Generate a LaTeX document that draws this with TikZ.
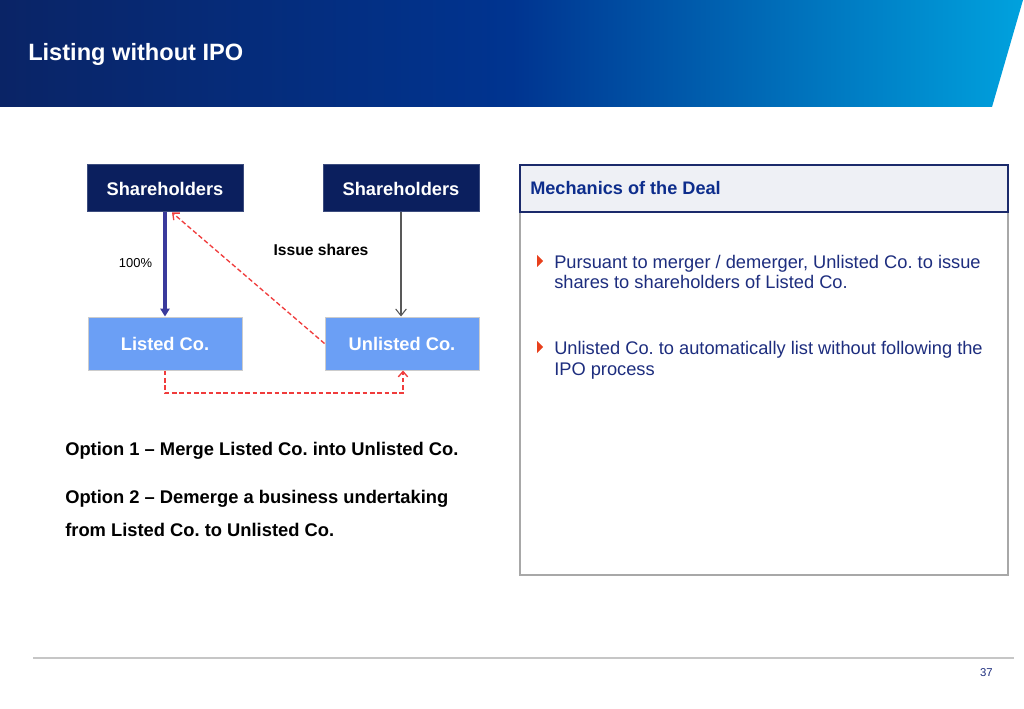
\documentclass[tikz,border=0pt]{standalone}
\usepackage{fontspec}
\setmainfont{Liberation Sans}
\usetikzlibrary{arrows.meta}
\frenchspacing
\definecolor{navybox}{HTML}{0B1F5E}
\definecolor{lightbox}{HTML}{6B9FF5}
\definecolor{arrowblue}{HTML}{3A3A9C}
\definecolor{dashred}{HTML}{F03C3C}
\definecolor{textnavy}{HTML}{1D2D7E}
\definecolor{headnavy}{HTML}{0D2D8C}
\definecolor{bulletred}{HTML}{E8401C}
\definecolor{panelgrey}{HTML}{A8A8A8}
\definecolor{stripfill}{HTML}{EEF0F5}
\definecolor{stripline}{HTML}{1B2A6B}
\definecolor{hdleft}{HTML}{0A2466}
\definecolor{hdmid}{HTML}{003490}
\definecolor{hdright}{HTML}{00A2DE}
\tikzset{
  darkbox/.style={fill=navybox, draw=navybox!80!white, line width=0.75pt, minimum width=117pt, minimum height=35.25pt, inner sep=0pt, text=white, font=\bfseries\fontsize{13.7}{16}\selectfont},
  cobox/.style={fill=lightbox, draw=gray!40, line width=0.75pt, minimum width=115.5pt, minimum height=39.75pt, inner sep=0pt, text=white, font=\bfseries\fontsize{13.7}{16}\selectfont},
  optiontext/.style={anchor=base west, inner sep=0pt, font=\bfseries\fontsize{13.75}{16}\selectfont, text=black},
  bullettext/.style={anchor=base west, inner sep=0pt, font=\fontsize{13.7}{16}\selectfont, text=textnavy},
  reddash/.style={draw=dashred, line width=1pt, dash pattern=on 3.5pt off 2pt, -{Straight Barb[length=4pt,width=7pt]}},
  bulletmark/.style={fill=bulletred, draw=none},
}
\begin{document}
\begin{tikzpicture}[x=0.75pt,y=-0.75pt]
\useasboundingbox (0,0) rectangle (1024,709);
\fill[white] (0,0) rectangle (1024,709);
% header band
\begin{scope}
\clip (0,0) -- (1023,0) -- (992,107) -- (0,107) -- cycle;
\shade[left color=hdleft, right color=hdright, middle color=hdmid] (0,0) rectangle (1024,107);
\end{scope}
\node[anchor=base west, inner sep=0pt, text=white, font=\bfseries\fontsize{17.7}{20}\selectfont] (title) at (28,61) {Listing without IPO};

% left diagram
\node[darkbox] (sh1) at (165,188.5) {Shareholders};
\node[darkbox] (sh2) at (401,188.5) {Shareholders};
\node[cobox] (listed) at (165,343.5) {Listed Co.};
\node[cobox] (unlisted) at (402,343.5) {Unlisted Co.};

\draw[arrowblue, line width=2.4pt, -{Triangle[length=6pt,width=7pt]}] (sh1.south) -- (listed.north);
\draw[black!65, line width=0.8pt, -{Straight Barb[length=5pt,width=8pt]}] (sh2.south) -- (sh2.south |- unlisted.north);
\coordinate (tgt1) at ([xshift=5.25pt]sh1.south);
\draw[reddash] (unlisted.west) -- (tgt1);
\coordinate (tgt2) at ([xshift=0.75pt]unlisted.south);
\draw[reddash] (listed.south) -- ++(0,22.5) -| (tgt2);

\node[anchor=base, inner sep=0pt, font=\bfseries\fontsize{11.75}{14}\selectfont] (issue) at (321,256) {Issue shares};
\node[anchor=base, inner sep=0pt, font=\fontsize{9.7}{12}\selectfont] (pct) at (135.5,267.5) {100\%};

\node[optiontext] (opt1) at (65,455) {Option 1 – Merge Listed Co. into Unlisted Co.};
\node[optiontext] (opt2a) at (65,503.5) {Option 2 – Demerge a business undertaking};
\node[optiontext] (opt2b) at (65,536.5) {from Listed Co. to Unlisted Co.};

% right panel
\draw[panelgrey, line width=1.6pt] (520,165) rectangle (1008,575);
\draw[stripline, fill=stripfill, line width=1.6pt] (520,165) rectangle (1008,212);
\node[anchor=base west, inner sep=0pt, text=headnavy, font=\bfseries\fontsize{13.6}{16}\selectfont] (mech) at (530,195) {Mechanics of the Deal};

\fill[bulletmark] (537,255) -- (543,261) -- (537,267) -- cycle;
\node[bullettext] (b1a) at (554,268) {Pursuant to merger / demerger, Unlisted Co. to issue};
\node[bullettext] (b1b) at (554,289) {shares to shareholders of Listed Co.};
\fill[bulletmark] (537,341) -- (543,347) -- (537,353) -- cycle;
\node[bullettext] (b2a) at (554,354) {Unlisted Co. to automatically list without following the};
\node[bullettext] (b2b) at (554,375) {IPO process};

% footer
\draw[gray!45, line width=1.2pt] (33,658) -- (1014,658);
\node[anchor=base east, inner sep=0pt, text=textnavy, font=\fontsize{8.5}{10}\selectfont] (pg) at (993,676) {37};
\end{tikzpicture}
\end{document}
